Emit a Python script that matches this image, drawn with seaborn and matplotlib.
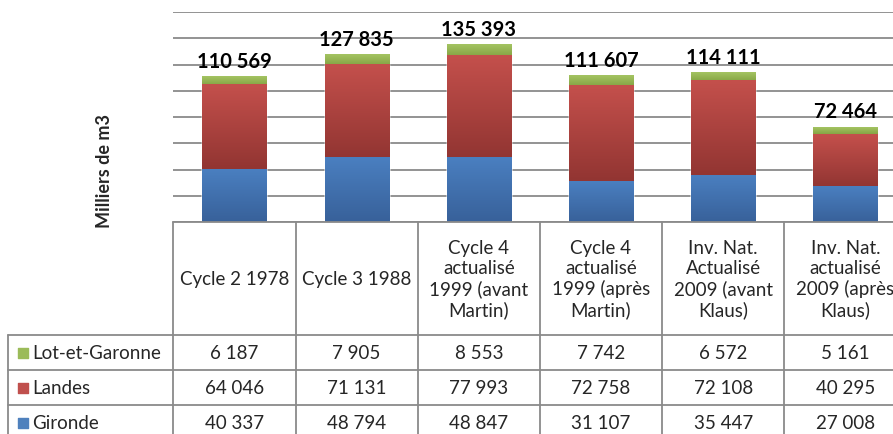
import numpy as np
import pandas as pd
import seaborn as sns
import matplotlib.pyplot as plt
from matplotlib.colors import LinearSegmentedColormap

categories = ['Cycle 2 1978', 'Cycle 3 1988',
              'Cycle 4\nactualisé\n1999 (avant\nMartin)',
              'Cycle 4\nactualisé\n1999 (après\nMartin)',
              'Inv. Nat.\nActualisé\n2009 (avant\nKlaus)',
              'Inv. Nat.\nactualisé\n2009 (après\nKlaus)']
series = ['Lot-et-Garonne', 'Landes', 'Gironde']
lot_et_garonne = [6187, 7905, 8553, 7742, 6572, 5161]
landes = [64046, 71131, 77993, 72758, 72108, 40295]
gironde = [40337, 48794, 48847, 31107, 35447, 27008]
totals = [110569, 127835, 135393, 111607, 114111, 72464]

colors = {'Lot-et-Garonne': ('#a4c462', '#86a545'),
          'Landes': ('#c4504c', '#923532'),
          'Gironde': ('#4a7fc0', '#38619a')}
legend_colors = {'Lot-et-Garonne': '#9bbb59', 'Landes': '#c0504d',
                 'Gironde': '#4f81bd'}


def fmt(v):
    return '{:,}'.format(v).replace(',', ' ')


def main():
    sns.set_style('white')
    plt.rcParams['font.family'] = ['Lato', 'DejaVu Sans']

    df = pd.DataFrame({'cat': categories, 'Gironde': gironde,
                       'Landes': landes, 'Lot-et-Garonne': lot_et_garonne})
    df['cum_g'] = df['Gironde']
    df['cum_l'] = df['cum_g'] + df['Landes']
    df['cum_lg'] = df['cum_l'] + df['Lot-et-Garonne']

    fig = plt.figure(figsize=(8.93, 4.35), dpi=100)
    col_w = 122.2
    left_px, right_px = 173.3, 173.3 + 6 * col_w
    ax = fig.add_axes([left_px / 893, 1 - 223 / 435,
                       (right_px - left_px) / 893, 210 / 435])

    # Stacked bars drawn as overlapping cumulative bars
    layers = [('cum_lg', 'Lot-et-Garonne', 'cum_l'),
              ('cum_l', 'Landes', 'cum_g'),
              ('cum_g', 'Gironde', None)]
    for col, name, _ in layers:
        sns.barplot(x='cat', y=col, data=df, color=colors[name][0],
                    width=0.525, saturation=1, ax=ax, zorder=2)

    # Vertical gradient on every visible segment
    n = len(categories)
    for k, (col, name, lower) in enumerate(layers):
        cmap = LinearSegmentedColormap.from_list(name, [colors[name][1],
                                                        colors[name][0]])
        grad = np.linspace(0, 1, 100).reshape(-1, 1)
        for i, p in enumerate(ax.patches[k * n:(k + 1) * n]):
            lo = 0 if lower is None else df[lower][i]
            ax.imshow(grad, extent=[p.get_x(), p.get_x() + p.get_width(),
                                    lo, p.get_height()],
                      origin='lower', aspect='auto', cmap=cmap, zorder=3)

    for i, t in enumerate(totals):
        ax.annotate(fmt(t), (i, t), xytext=(0, 4), textcoords='offset points',
                    ha='center', va='bottom', fontsize=14.5,
                    fontweight='bold', color='black', zorder=5)

    ax.set_xlim(-0.5, 5.5)
    ax.set_ylim(0, 160000)
    ax.set_yticks(range(0, 160001, 20000))
    ax.set_yticklabels([])
    ax.set_xticks([])
    ax.tick_params(length=0)
    ax.yaxis.grid(True, color='#8a8a8a', lw=1.3, zorder=0)
    ax.set_axisbelow(True)
    for s in ax.spines.values():
        s.set_visible(False)
    ax.set_xlabel('')
    ax.set_ylabel('')

    fig.text(105 / 893, 1 - 171.5 / 435, 'Milliers de m3', rotation=90,
             ha='center', va='center', fontsize=13, fontweight='bold')

    # Data table under the chart
    x_left = -0.5 - (left_px - 8) / col_w
    axt = fig.add_axes([8 / 893, 0, (right_px - 8) / 893, 212 / 435])
    axt.set_xlim(x_left, 5.5)
    axt.set_ylim(212, 0)
    axt.axis('off')
    lc, lw = '#8a8a8a', 1.3
    rows = [113, 148, 183, 218]
    axt.plot([-0.5, 5.5], [0, 0], color=lc, lw=lw, clip_on=False)
    for y in rows[:3]:
        axt.plot([x_left, 5.5], [y, y], color=lc, lw=lw, clip_on=False)
    for i in range(7):
        axt.plot([i - 0.5, i - 0.5], [0, rows[-1]], color=lc, lw=lw,
                 clip_on=False)
    axt.plot([x_left, x_left], [rows[0], rows[-1]], color=lc, lw=lw,
             clip_on=False)

    for i, c in enumerate(categories):
        axt.text(i, 56.5, c, ha='center', va='center', fontsize=13.5,
                 linespacing=1.2)
    values = {'Lot-et-Garonne': lot_et_garonne, 'Landes': landes,
              'Gironde': gironde}
    for r, name in enumerate(series):
        yc = (rows[r] + rows[r + 1]) / 2
        axt.scatter([x_left + 15 / col_w], [yc], marker='s', s=50,
                    color=legend_colors[name], clip_on=False)
        axt.text(x_left + 24 / col_w, yc, name, ha='left', va='center',
                 fontsize=13.5)
        for i, v in enumerate(values[name]):
            axt.text(i, yc, fmt(v), ha='center', va='center', fontsize=13.5)

    fig.savefig('out.png', dpi=100)


if __name__ == '__main__':
    main()
